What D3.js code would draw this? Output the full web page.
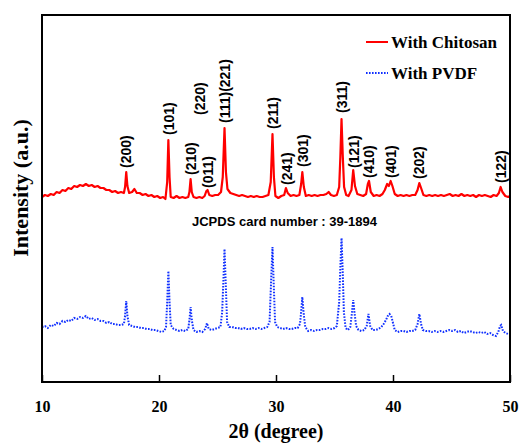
<!DOCTYPE html>
<html>
<head>
<meta charset="utf-8">
<script src="https://cdnjs.cloudflare.com/ajax/libs/d3/7.8.5/d3.min.js"></script>
<style>
body{margin:0;background:#fff;}
</style>
</head>
<body>
<div id="chart"></div>
<script>
// 2theta (degree), intensity (a.u.)
var chitosan = [
[10.0,185],[10.25,187],[10.5,186],[10.75,188],[11.0,187],[11.25,190],[11.5,189],[11.75,192],[12.0,191],[12.25,194],
[12.5,193],[12.75,196],[13.0,195],[13.25,197],[13.5,196],[13.75,198],[14.0,196],[14.25,197],[14.5,195],[14.75,196],
[15.0,194],[15.25,194],[15.5,192],[15.75,192],[16.0,190],[16.25,191],[16.5,189],[16.75,190],[17.0,189],[17.1,195],
[17.2,210],[17.3,196],[17.45,189],[17.7,190],[17.9,193],[18.1,189],[18.35,189],[18.6,187],[18.85,188],[19.1,186],
[19.35,187],[19.6,185],[19.85,186],[20.1,184],[20.35,185],[20.55,183],[20.7,200],[20.8,242],[20.9,205],[21.0,185],
[21.25,184],[21.5,186],[21.75,184],[22.0,185],[22.25,184],[22.5,185],[22.6,190],[22.7,203],[22.8,190],[22.95,185],
[23.2,184],[23.45,185],[23.7,184],[23.9,186],[24.05,191],[24.15,192],[24.3,187],[24.55,186],[24.8,187],[25.05,187],
[25.3,190],[25.45,205],[25.6,254],[25.72,210],[25.85,193],[26.1,189],[26.35,188],[26.6,187],[26.85,186],[27.1,187],
[27.35,186],[27.6,185],[27.85,186],[28.1,185],[28.35,186],[28.6,185],[28.85,185],[29.1,186],[29.35,187],[29.55,200],
[29.7,248],[29.82,205],[29.95,186],[30.2,184],[30.45,186],[30.7,187],[30.85,194],[31.0,189],[31.25,186],[31.5,187],
[31.75,186],[32.0,187],[32.15,198],[32.25,210],[32.38,195],[32.55,186],[32.8,187],[33.05,186],[33.3,187],[33.55,186],
[33.8,187],[34.05,187],[34.3,188],[34.5,190],[34.7,187],[34.95,186],[35.2,187],[35.4,195],[35.5,225],[35.6,263],
[35.7,228],[35.82,195],[36.0,187],[36.2,186],[36.45,192],[36.6,212],[36.75,196],[36.95,188],[37.2,187],[37.45,186],
[37.7,188],[37.85,198],[37.95,201],[38.1,190],[38.35,186],[38.6,187],[38.85,186],[39.1,188],[39.3,192],[39.5,198],
[39.65,196],[39.8,201],[39.95,196],[40.15,188],[40.4,186],[40.65,187],[40.9,186],[41.15,187],[41.4,186],[41.65,187],
[41.9,187],[42.1,192],[42.25,199],[42.4,194],[42.6,187],[42.85,186],[43.1,187],[43.35,186],[43.6,187],[43.85,186],
[44.1,187],[44.35,186],[44.6,187],[44.85,188],[45.1,186],[45.35,187],[45.6,186],[45.85,188],[46.1,186],[46.35,187],
[46.6,186],[46.85,187],[47.1,185],[47.35,187],[47.6,186],[47.85,187],[48.1,186],[48.35,185],[48.6,187],[48.85,186],
[49.05,189],[49.2,195],[49.35,190],[49.6,186],[49.85,185],[50.0,186]
];
var pvdf = [
[10.0,55],[10.25,56],[10.5,54],[10.75,57],[11.0,56],[11.25,59],[11.5,58],[11.75,61],[12.0,60],[12.25,62],
[12.5,61],[12.75,64],[13.0,63],[13.25,65],[13.5,64],[13.75,66],[14.0,63],[14.25,64],[14.5,62],[14.75,63],
[15.0,61],[15.25,61],[15.5,59],[15.75,60],[16.0,58],[16.25,58],[16.5,57],[16.75,57],[17.0,58],[17.1,66],
[17.2,81],[17.3,66],[17.45,57],[17.7,56],[17.95,55],[18.2,55],[18.45,54],[18.7,54],[18.95,53],[19.2,53],
[19.45,52],[19.7,52],[19.95,51],[20.2,50],[20.45,51],[20.6,55],[20.7,80],[20.8,111],[20.9,80],[21.0,57],
[21.25,53],[21.5,52],[21.75,51],[22.0,52],[22.25,51],[22.5,53],[22.6,62],[22.7,75],[22.8,62],[22.95,52],
[23.2,50],[23.45,51],[23.7,50],[23.95,53],[24.1,59],[24.25,53],[24.5,52],[24.75,53],[25.0,54],[25.25,55],
[25.4,70],[25.5,100],[25.6,133],[25.7,100],[25.82,60],[26.0,55],[26.25,55],[26.5,54],[26.75,54],[27.0,53],
[27.25,54],[27.5,53],[27.75,53],[28.0,54],[28.25,53],[28.5,54],[28.75,53],[29.0,54],[29.25,55],[29.45,60],
[29.58,100],[29.7,135],[29.8,100],[29.92,60],[30.1,55],[30.35,54],[30.6,53],[30.85,54],[31.1,53],[31.35,53],
[31.6,54],[31.85,54],[32.05,58],[32.15,70],[32.25,85],[32.35,70],[32.5,55],[32.75,51],[33.0,52],[33.25,51],
[33.5,52],[33.75,52],[34.0,53],[34.25,53],[34.5,54],[34.75,53],[35.0,54],[35.2,56],[35.4,80],[35.5,115],
[35.6,144],[35.7,110],[35.8,70],[35.95,54],[36.15,52],[36.35,55],[36.5,70],[36.6,82],[36.7,70],[36.85,56],
[37.05,52],[37.3,51],[37.55,52],[37.75,56],[37.9,68],[38.05,56],[38.25,52],[38.5,52],[38.75,53],[39.0,55],
[39.2,58],[39.4,62],[39.55,66],[39.7,68],[39.85,66],[40.0,59],[40.15,52],[40.4,50],[40.65,51],[40.9,51],
[41.15,50],[41.4,51],[41.65,51],[41.9,52],[42.1,58],[42.25,68],[42.4,58],[42.55,52],[42.8,51],[43.05,51],
[43.3,50],[43.55,51],[43.8,50],[44.05,51],[44.3,50],[44.55,51],[44.8,52],[45.05,51],[45.3,52],[45.55,50],
[45.8,51],[46.05,49],[46.3,50],[46.55,51],[46.8,50],[47.05,49],[47.3,50],[47.55,49],[47.8,50],[48.05,48],
[48.3,49],[48.55,47],[48.8,46],[49.0,50],[49.15,56],[49.25,57],[49.4,51],[49.6,49],[49.85,48],[50.0,48]
];
// miller indices, where they sit (2theta) and the intensity at the foot of each label
var hklLabels = ['(200)','(101)','(210)','(220)','(011)','(111)(221)','(211)','(241)','(301)','(311)','(121)','(410)','(401)','(202)','(122)'];
var hklPos = [17.2,20.85,22.75,23.5,24.15,25.65,29.75,30.95,32.3,35.65,36.65,37.95,39.8,42.2,49.2];
var hklFoot = [214,247,207,267,194,259,253,197,215,269,214,204,204,203,199];
var xTicks = [10,20,30,40,50];
var seriesNames = ['With Chitosan','With PVDF'];

var W = 519, H = 444,
	margin = {left:42, top:15, right:9, bottom:62},
	w = W - margin.left - margin.right,
	h = H - margin.top - margin.bottom;

var svg = d3.select('#chart').append('svg')
	.attr('width', W)
	.attr('height', H);

var x = d3.scaleLinear().domain([10,50]).range([margin.left, margin.left + w]),
	y = d3.scaleLinear().domain([0,h]).range([margin.top + h, margin.top]);

var line = d3.line()
	.x(function(d){ return x(d[0]); })
	.y(function(d){ return y(d[1]); });

svg.append('path')
	.datum(chitosan)
	.attr('d', line)
	.attr('fill','none')
	.attr('stroke','#ff0000')
	.attr('stroke-width',2.2)
	.attr('stroke-linejoin','round');

svg.append('path')
	.datum(pvdf)
	.attr('d', line)
	.attr('fill','none')
	.attr('stroke','#1030ff')
	.attr('stroke-width',2)
	.attr('stroke-dasharray','1.6,1.4');

// hkl labels, turned upright
svg.selectAll('.hkl')
	.data(hklLabels)
	.enter()
	.append('text')
	.attr('class','hkl')
	.attr('transform', function(d,i){
		return 'translate(' + x(hklPos[i]) + ',' + y(hklFoot[i]) + ') rotate(-90)';
	})
	.attr('dy','0.36em')
	.attr('font-family','Liberation Sans, Arial, sans-serif')
	.attr('font-weight','bold')
	.attr('font-size',14)
	.text(function(d){ return d; });

svg.append('text')
	.attr('x', 192)
	.attr('y', 226)
	.attr('font-family','Liberation Sans, Arial, sans-serif')
	.attr('font-weight','bold')
	.attr('font-size',13)
	.text('JCPDS card number : 39-1894');

// frame
svg.append('rect')
	.attr('x', margin.left)
	.attr('y', margin.top)
	.attr('width', w)
	.attr('height', h)
	.attr('fill','none')
	.attr('stroke','#000')
	.attr('stroke-width',2);

var xAxis = svg.append('g')
	.attr('transform','translate(0,' + (margin.top + h) + ')')
	.call(d3.axisBottom(x).tickValues(xTicks).tickSizeInner(-7).tickSizeOuter(0).tickPadding(19));
xAxis.select('.domain').remove();
xAxis.selectAll('line').attr('stroke','#000').attr('stroke-width',1.5);
xAxis.selectAll('text')
	.attr('font-family','Liberation Serif, Times New Roman, serif')
	.attr('font-weight','bold')
	.attr('font-size',16)
	.attr('fill','#000');

svg.append('text')
	.attr('x', x(30))
	.attr('y', 438)
	.attr('text-anchor','middle')
	.attr('font-family','Liberation Serif, Times New Roman, serif')
	.attr('font-weight','bold')
	.attr('font-size',20)
	.text('2\u03B8 (degree)');

svg.append('text')
	.attr('transform','translate(28,188) rotate(-90)')
	.attr('text-anchor','middle')
	.attr('font-family','Liberation Serif, Times New Roman, serif')
	.attr('font-weight','bold')
	.attr('font-size',22)
	.text('Intensity (a.u.)');

// legend
var legend = svg.selectAll('.legend')
	.data(seriesNames)
	.enter()
	.append('g')
	.attr('class','legend')
	.attr('transform', function(d,i){ return 'translate(366,' + (42 + i*31) + ')'; });
legend.append('line')
	.attr('x1',0).attr('x2',22)
	.attr('stroke', function(d,i){ return i == 0 ? '#ff0000' : '#1030ff'; })
	.attr('stroke-width',2)
	.attr('stroke-dasharray', function(d,i){ return i == 0 ? null : '1.6,1.4'; });
legend.append('text')
	.attr('x',25)
	.attr('y',6)
	.attr('font-family','Liberation Serif, Times New Roman, serif')
	.attr('font-weight','bold')
	.attr('font-size',17)
	.text(function(d){ return d; });
</script>
</body>
</html>
